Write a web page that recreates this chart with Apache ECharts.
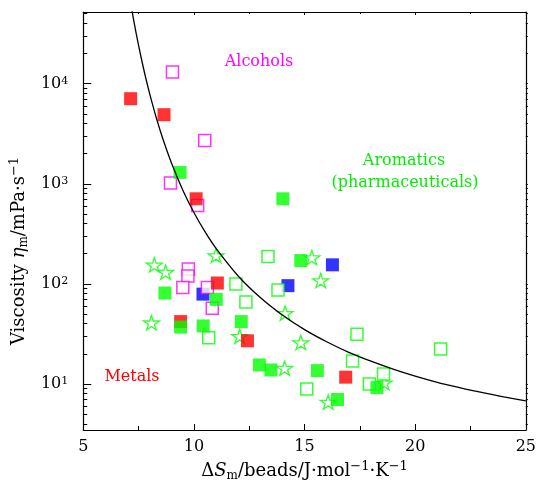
<!DOCTYPE html>
<html>
<head>
<meta charset="utf-8">
<script src="https://cdn.jsdelivr.net/npm/echarts@6/dist/echarts.min.js"></script>
<style>html,body{margin:0;padding:0;background:#fff;}#c{width:539px;height:487px;}</style>
</head>
<body>
<div id="c"></div>
<script>
// ---- data ----
const xTicks = [5, 10, 15, 20, 25];
const yMajorTicks = [10, 100, 1000, 10000];
const yMinorTicks = [4, 5, 6, 7, 8, 9, 20, 30, 40, 50, 60, 70, 80, 90,
  200, 300, 400, 500, 600, 700, 800, 900, 2000, 3000, 4000, 5000, 6000, 7000, 8000, 9000,
  20000, 30000, 40000, 50000];

const metals = [[7.14, 7080], [8.65, 4900], [10.1, 708], [11.06, 102], [9.4, 42], [12.42, 27], [16.86, 11.7]];
const alcohols = [[9.03, 13100], [10.49, 2710], [8.94, 1016], [10.17, 607], [9.75, 141], [9.73, 120],
  [9.5, 92], [10.61, 92], [10.83, 57]];
const blueFilled = [[10.41, 79], [14.25, 96], [16.26, 155]];
const greenFilled = [[9.375, 1300], [14.02, 708], [8.69, 81], [11.01, 70], [9.4, 37], [10.42, 38],
  [12.14, 42], [14.83, 171], [12.96, 15.5], [13.48, 13.8], [15.58, 13.6], [18.27, 9.2], [16.49, 7.0]];
const greenOpen = [[11.9, 100], [12.35, 66], [13.35, 188], [13.8, 87], [10.67, 29], [15.1, 8.9],
  [17.37, 31.4], [17.17, 17], [17.93, 10], [18.57, 12.6], [21.15, 22.4]];
const greenStars = [[8.21, 155], [8.72, 131], [11.0, 192], [8.08, 41], [14.12, 51], [12.07, 30],
  [14.83, 26], [14.1, 14.4], [15.33, 183], [15.73, 108], [16.07, 6.6], [18.6, 10.3]];
const curveX = [7.2, 7.4, 7.6, 7.8, 8.0, 8.3, 8.6, 9.0, 9.5, 10.0, 10.5, 11.0, 12.0, 13.0, 14.0,
  15.0, 16.0, 17.0, 18.0, 19.0, 20.0, 21.0, 22.0, 23.0, 24.0, 25.0];
const curveY = [53800, 31000, 18900, 12000, 7960, 4570, 2800, 1585, 863, 516, 332, 226, 120, 73, 48.8,
  34.9, 26.4, 20.7, 16.9, 14.1, 12.0, 10.4, 9.22, 8.24, 7.45, 6.79];

const FONT = 'DejaVu Serif';
const starPath = 'path://M50,0 L61,35 L98,35 L68,57 L79,91 L50,70 L21,91 L32,57 L2,35 L39,35 Z';
const richText = {
  i: {fontFamily: FONT, fontSize: 18, fontStyle: 'italic', color: '#000', lineHeight: 22},
  sub: {fontFamily: FONT, fontSize: 12, color: '#000', verticalAlign: 'bottom', lineHeight: 12},
  sup: {fontFamily: FONT, fontSize: 13, color: '#000', verticalAlign: 'top', lineHeight: 13},
  gap: {width: 60, lineHeight: 22}
};

const chart = echarts.init(document.getElementById('c'), null, {renderer: 'canvas'});
const grid = {left: 82, right: 10, top: 12, bottom: 57};
const yMin = 3.47, yMax = 52000;

chart.setOption({
  animation: false,
  backgroundColor: '#fff',
  grid: grid,
  xAxis: [{
    type: 'value', min: xTicks[0], max: xTicks[xTicks.length - 1], interval: 5, position: 'bottom',
    axisLine: {lineStyle: {color: '#000', width: 1.2}},
    axisTick: {inside: true, length: 6, lineStyle: {color: '#000'}},
    minorTick: {show: true, splitNumber: 2, length: 4, lineStyle: {color: '#000'}},
    splitLine: {show: false},
    axisLabel: {color: '#000', fontFamily: FONT, fontSize: 16, margin: 9},
    name: 'Δ{i|S}{sub|m}/beads/J·mol{sup|−1}·K{sup|−1}',
    nameLocation: 'middle', nameGap: 26,
    nameTextStyle: {color: '#000', fontFamily: FONT, fontSize: 18, lineHeight: 22, rich: richText}
  }, {
    type: 'value', min: xTicks[0], max: xTicks[xTicks.length - 1], interval: 5, position: 'top',
    axisLine: {lineStyle: {color: '#000', width: 1.2}},
    axisTick: {inside: true, length: 3, lineStyle: {color: '#000'}},
    minorTick: {show: true, splitNumber: 2, length: 2, lineStyle: {color: '#000'}},
    splitLine: {show: false}, axisLabel: {show: false}
  }],
  yAxis: [{
    type: 'log', logBase: 10, min: yMin, max: yMax, position: 'left',
    axisLine: {lineStyle: {color: '#000', width: 1.2}},
    axisTick: {inside: true, length: 8, customValues: yMajorTicks, lineStyle: {color: '#000'}},
    splitLine: {show: false},
    axisLabel: {
      color: '#000', fontFamily: FONT, fontSize: 16, margin: 15, customValues: yMajorTicks,
      formatter: v => '10{sup|' + Math.round(Math.log10(v)) + '}',
      rich: {sup: {fontFamily: FONT, fontSize: 11, color: '#000', verticalAlign: 'top', lineHeight: 11}}
    },
    name: 'Viscosity {i|η}{sub|m}/mPa·s{sup|−1}{gap|}',
    nameLocation: 'middle', nameGap: 45,
    nameTextStyle: {color: '#000', fontFamily: FONT, fontSize: 18, lineHeight: 22, rich: richText}
  }, {
    type: 'log', logBase: 10, min: yMin, max: yMax, position: 'left',
    axisLine: {show: false},
    axisTick: {inside: true, length: 4, customValues: yMinorTicks, lineStyle: {color: '#000'}},
    axisLabel: {show: false}, splitLine: {show: false}
  }, {
    type: 'log', logBase: 10, min: yMin, max: yMax, position: 'right',
    axisLine: {show: true, lineStyle: {color: '#000', width: 1.2}},
    axisTick: {inside: false, length: 2, customValues: yMajorTicks.concat(yMinorTicks), lineStyle: {color: '#000'}},
    axisLabel: {show: false}, splitLine: {show: false}
  }],
  series: [
    {name: 'Aromatics (stars)', type: 'scatter', data: greenStars, symbol: starPath, symbolSize: [16, 15], symbolKeepAspect: true,
      itemStyle: {color: '#fff', borderColor: '#00ff00', borderWidth: 1.3}, z: 2},
    {name: 'Blue', type: 'scatter', data: blueFilled, symbol: 'rect', symbolSize: 13,
      itemStyle: {color: '#0000ff'}, z: 3},
    {name: 'Alcohols', type: 'scatter', data: alcohols, symbol: 'rect', symbolSize: 12,
      itemStyle: {color: '#fff', borderColor: '#ff00ff', borderWidth: 1.5}, z: 4},
    {name: 'Aromatics (open)', type: 'scatter', data: greenOpen, symbol: 'rect', symbolSize: 12,
      itemStyle: {color: '#fff', borderColor: '#00ff00', borderWidth: 1.5}, z: 4},
    {name: 'Metals', type: 'scatter', data: metals, symbol: 'rect', symbolSize: 13,
      itemStyle: {color: '#ff0000'}, z: 5},
    {name: 'Aromatics (filled)', type: 'scatter', data: greenFilled, symbol: 'rect', symbolSize: 13,
      itemStyle: {color: '#00ff00'}, z: 6},
    {name: 'Fit', type: 'line', data: curveX.map((x, i) => [x, curveY[i]]), smooth: 0.3, showSymbol: false, symbol: 'none',
      lineStyle: {color: '#000', width: 1.3}, z: 7, clip: true}
  ],
  graphic: [
    {type: 'text', x: 259, y: 62, style: {text: 'Alcohols', fill: '#ff00ff', font: '16px "DejaVu Serif"', textAlign: 'center', textVerticalAlign: 'middle'}},
    {type: 'text', x: 404, y: 161, style: {text: 'Aromatics', fill: '#00ee00', font: '16px "DejaVu Serif"', textAlign: 'center', textVerticalAlign: 'middle'}},
    {type: 'text', x: 405, y: 183, style: {text: '(pharmaceuticals)', fill: '#00ee00', font: '16px "DejaVu Serif"', textAlign: 'center', textVerticalAlign: 'middle'}},
    {type: 'text', x: 132, y: 377, style: {text: 'Metals', fill: '#ff0000', font: '16px "DejaVu Serif"', textAlign: 'center', textVerticalAlign: 'middle'}}
  ]
});
</script>
</body>
</html>
